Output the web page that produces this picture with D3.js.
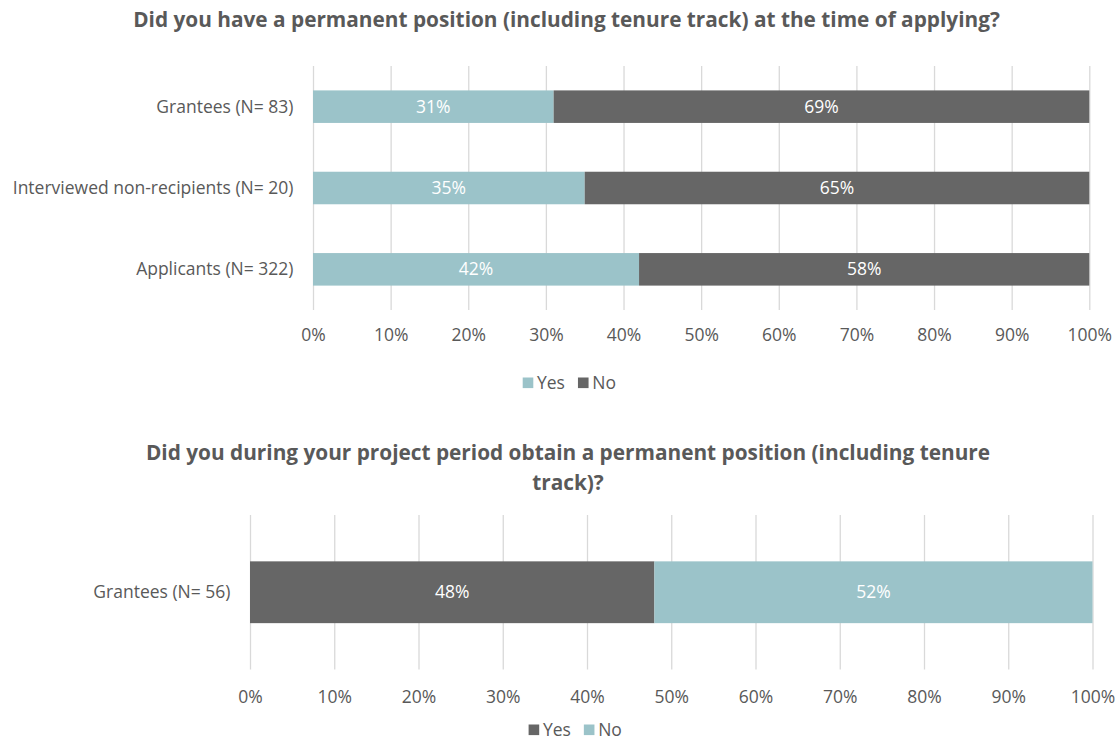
<!DOCTYPE html>
<html>
<head>
<meta charset="utf-8">
<script src="https://cdn.jsdelivr.net/npm/d3@7"></script>
<style>
  html, body { margin: 0; padding: 0; background: #ffffff; }
  svg { display: block; }
  text { font-family: "Open Sans", "Noto Sans", sans-serif; }
</style>
</head>
<body>
<svg id="chart" width="1117" height="740"></svg>
<script>
// ---- Data ----
const seriesNames = ["Yes", "No"];

// Chart 1: permanent position at the time of applying
const groups1 = ["Grantees (N= 83)", "Interviewed non-recipients (N= 20)", "Applicants (N= 322)"];
const yes1 = [31, 35, 42];
const no1 = [69, 65, 58];

// Chart 2: permanent position obtained during project period
const groups2 = ["Grantees (N= 56)"];
const yes2 = [48];
const no2 = [52];

const xTicks = [0, 10, 20, 30, 40, 50, 60, 70, 80, 90, 100];

const title1 = ["Did you have a permanent position (including tenure track) at the time of applying?"];
const title2 = ["Did you during your project period obtain a permanent position (including tenure", "track)?"];

// ---- Styles ----
const TEAL = "#9bc3c9";
const GREY = "#666666";
const TEXT = "#595959";
const GRID = "#d9d9d9";
const FS = 17.5;
const TITLE_FS = 20.8;

const svg = d3.select("#chart");
svg.append("rect").attr("width", 1117).attr("height", 740).attr("fill", "#fff");

function drawChart(cfg) {
  const g = svg.append("g");
  const x = d3.scaleLinear().domain([0, 100]).range([cfg.x0, cfg.x1]);
  const y = d3.scaleBand().domain(cfg.groups).range([cfg.top, cfg.bottom])
    .paddingInner(0.6).paddingOuter(0.3);
  const plotH = cfg.bottom - cfg.top;

  // Title
  const t = g.append("text")
    .attr("x", cfg.titleX)
    .attr("text-anchor", "middle")
    .attr("fill", TEXT)
    .attr("font-weight", "bold")
    .attr("font-size", TITLE_FS);
  cfg.title.forEach((line, i) => {
    t.append("tspan").attr("x", cfg.titleX).attr("y", cfg.titleY + i * 30)
      .attr("dy", "0.35em").text(line);
  });

  // Grid lines + tick labels
  const axis = d3.axisBottom(x).tickValues(xTicks)
    .tickSizeInner(plotH).tickSizeOuter(0)
    .tickFormat(d => d + "%");
  const ax = g.append("g").attr("transform", `translate(0,${cfg.top})`).call(axis);
  ax.select(".domain").remove();
  ax.selectAll(".tick line").attr("stroke", GRID).attr("stroke-width", 1.3);
  ax.selectAll(".tick text")
    .attr("y", plotH + cfg.tickGap).attr("dy", "0.35em")
    .attr("fill", TEXT).attr("font-size", FS)
    .attr("font-family", "'Open Sans', sans-serif");

  // Stacked bars
  const rows = cfg.groups.map((name, i) => ({ name, Yes: cfg.yes[i], No: cfg.no[i] }));
  const stacked = d3.stack().keys(cfg.order)(rows);
  const color = d3.scaleOrdinal().domain(seriesNames).range(cfg.colors);

  stacked.forEach(layer => {
    const lg = g.append("g");
    lg.selectAll("rect").data(layer).join("rect")
      .attr("x", d => x(d[0]))
      .attr("y", d => y(d.data.name))
      .attr("width", d => x(d[1]) - x(d[0]))
      .attr("height", y.bandwidth())
      .attr("fill", color(layer.key));
    lg.selectAll("text").data(layer).join("text")
      .attr("x", d => (x(d[0]) + x(d[1])) / 2)
      .attr("y", d => y(d.data.name) + y.bandwidth() / 2)
      .attr("dy", "0.35em")
      .attr("text-anchor", "middle")
      .attr("fill", "#ffffff")
      .attr("font-size", FS)
      .text(d => (d[1] - d[0]) + "%");
  });

  // Category labels
  g.selectAll("text.cat").data(cfg.groups).join("text")
    .attr("class", "cat")
    .attr("x", cfg.x0 - 19.5)
    .attr("y", d => y(d) + y.bandwidth() / 2)
    .attr("dy", "0.35em")
    .attr("text-anchor", "end")
    .attr("fill", TEXT)
    .attr("font-size", FS)
    .text(d => d);

  // Legend
  const leg = g.append("g").attr("transform", `translate(${cfg.legendX},${cfg.legendY})`);
  let off = 0;
  seriesNames.forEach(name => {
    const it = leg.append("g").attr("transform", `translate(${off},0)`);
    it.append("rect").attr("x", 0).attr("y", -5.5).attr("width", 10.6).attr("height", 10.6)
      .attr("fill", color(name));
    const tx = it.append("text").attr("x", 14.3).attr("y", 0).attr("dy", "0.35em")
      .attr("fill", TEXT).attr("font-size", FS).text(name);
    off += 14.3 + tx.node().getComputedTextLength() + 13;
  });
}

drawChart({
  groups: groups1, yes: yes1, no: no1,
  order: ["Yes", "No"], colors: [TEAL, GREY],
  x0: 313, x1: 1089.3, top: 66, bottom: 310,
  title: title1, titleX: 566.5, titleY: 20,
  tickGap: 25, legendX: 522.7, legendY: 383
});

drawChart({
  groups: groups2, yes: yes2, no: no2,
  order: ["Yes", "No"], colors: [GREY, TEAL],
  x0: 250, x1: 1092.5, top: 515, bottom: 669.5,
  title: title2, titleX: 568, titleY: 453,
  tickGap: 27, legendX: 528.6, legendY: 730
});
</script>
</body>
</html>
